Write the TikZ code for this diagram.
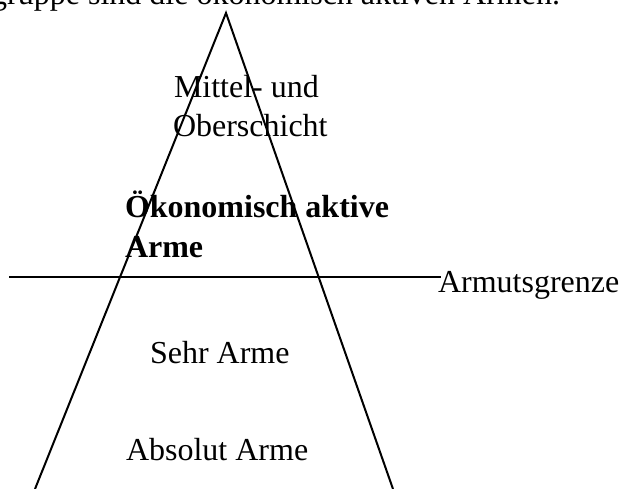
\documentclass[tikz,border=0pt]{standalone}
\usepackage{fontspec}
\setmainfont{Liberation Serif}
\begin{document}
\begin{tikzpicture}[x=1pt,y=-1pt,
  lbl/.style={inner sep=0pt,outer sep=0pt,anchor=base west,font=\fontsize{32}{39}\selectfont},
  bold/.style={lbl,font=\fontsize{32}{39}\selectfont\bfseries},
  edge/.style={line width=2pt,black}]
\useasboundingbox (0,0) rectangle (621,489);
\clip (0,0) rectangle (621,489);
\node[lbl,anchor=base east] (top) at (560,5) {gruppe sind die ökonomisch aktiven Armen.};
\coordinate (apex) at (226,13);
\coordinate (lf) at (35,489);
\coordinate (rf) at (393,489);
\coordinate (gl) at (9,277);
\coordinate (gr) at (441,277);
\draw[edge] (lf) -- (apex) -- (rf);
\draw[edge] (gl) -- (gr);
\node[lbl] (grenze) at (438,292) {Armutsgrenze};
\node[lbl] (mittelA) at (174,98) {Mittel- und};
\node[lbl] (mittelB) at (173,137) {Oberschicht};
\node[bold] (aktivA) at (125,218) {Ökonomisch aktive};
\node[bold] (aktivB) at (125,258) {Arme};
\node[lbl] (sehr) at (150,363) {Sehr Arme};
\node[lbl] (abs) at (126,460) {Absolut Arme};
\end{tikzpicture}
\end{document}
